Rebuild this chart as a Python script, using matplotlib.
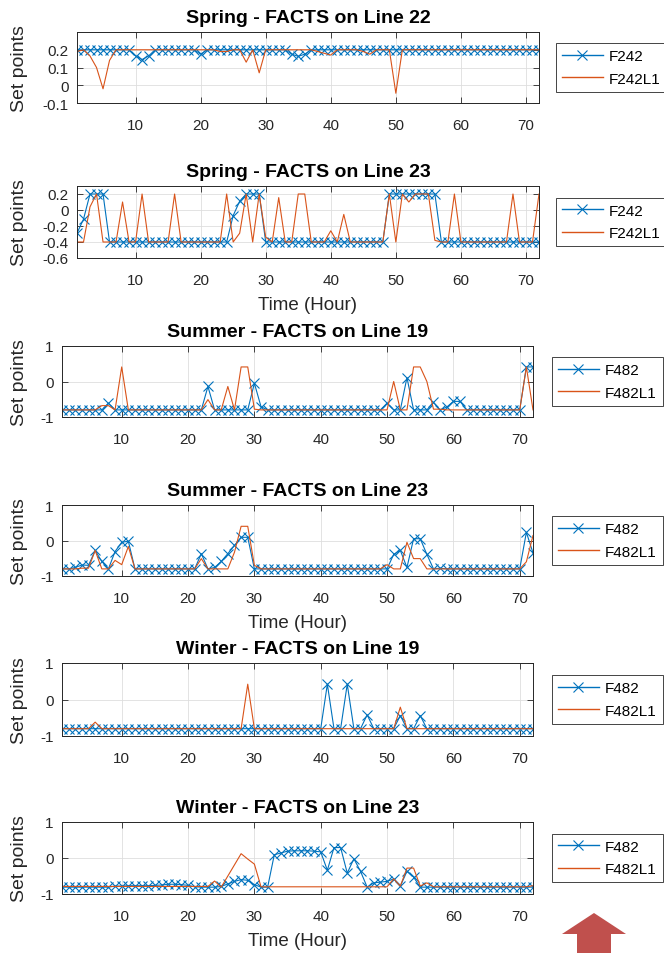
import matplotlib
matplotlib.use('Agg')
import matplotlib.pyplot as plt
from matplotlib.ticker import FixedLocator, FuncFormatter
from matplotlib.patches import Polygon

plt.rcParams['font.family'] = ['Liberation Sans', 'DejaVu Sans']

hours = list(range(1, 73))

# ---------------- data (hours 1..72) ----------------
spring22_F242 = [
    0.2, 0.2, 0.2, 0.2, 0.2, 0.2, 0.2, 0.2, 0.2, 0.165, 0.145, 0.165,
    0.2, 0.2, 0.2, 0.2, 0.2, 0.2, 0.2, 0.175, 0.2, 0.2, 0.2, 0.2,
    0.2, 0.2, 0.2, 0.2, 0.2, 0.2, 0.2, 0.2, 0.2, 0.175, 0.163, 0.175,
    0.2, 0.2, 0.2, 0.2, 0.2, 0.2, 0.2, 0.2, 0.2, 0.2, 0.2, 0.2,
    0.2, 0.2, 0.2, 0.2, 0.2, 0.2, 0.2, 0.2, 0.2, 0.2, 0.2, 0.2,
    0.2, 0.2, 0.2, 0.2, 0.2, 0.2, 0.2, 0.2, 0.2, 0.2, 0.2, 0.2]
spring22_F242L1 = [
    0.19, 0.2, 0.165, 0.1, -0.02, 0.14, 0.2, 0.2, 0.2, 0.2, 0.2, 0.2,
    0.2, 0.2, 0.2, 0.2, 0.2, 0.2, 0.2, 0.2, 0.2, 0.2, 0.19, 0.19,
    0.2, 0.2, 0.13, 0.2, 0.07, 0.2, 0.2, 0.2, 0.2, 0.2, 0.2, 0.2,
    0.2, 0.19, 0.18, 0.17, 0.2, 0.2, 0.2, 0.2, 0.19, 0.175, 0.2, 0.2,
    0.2, -0.045, 0.2, 0.2, 0.2, 0.2, 0.2, 0.2, 0.2, 0.2, 0.2, 0.2,
    0.2, 0.2, 0.2, 0.2, 0.2, 0.2, 0.2, 0.2, 0.2, 0.2, 0.2, 0.2]

spring23_F242 = [
    -0.29, -0.115, 0.2, 0.2, 0.2, -0.4, -0.4, -0.4, -0.4, -0.4, -0.4, -0.4,
    -0.4, -0.4, -0.4, -0.4, -0.4, -0.4, -0.4, -0.4, -0.4, -0.4, -0.4, -0.4,
    -0.07, 0.11, 0.2, 0.2, 0.2, -0.4, -0.4, -0.4, -0.4, -0.4, -0.4, -0.4,
    -0.4, -0.4, -0.4, -0.4, -0.4, -0.4, -0.4, -0.4, -0.4, -0.4, -0.4, -0.4,
    0.2, 0.2, 0.2, 0.2, 0.2, 0.2, 0.2, 0.2, -0.4, -0.4, -0.4, -0.4,
    -0.4, -0.4, -0.4, -0.4, -0.4, -0.4, -0.4, -0.4, -0.4, -0.4, -0.4, -0.4]
spring23_F242L1 = [
    -0.4, -0.4, 0.04, 0.2, -0.4, -0.4, -0.4, 0.1, -0.4, -0.4, 0.2, -0.4,
    -0.4, -0.4, -0.4, 0.2, -0.4, -0.4, -0.4, -0.4, -0.4, -0.4, -0.4, 0.2,
    -0.4, -0.29, 0.2, -0.4, 0.2, -0.34, -0.4, 0.155, -0.4, -0.4, 0.2, 0.2,
    -0.4, -0.4, -0.4, -0.26, -0.4, -0.055, -0.4, -0.4, -0.4, -0.4, -0.4, -0.4,
    0.2, -0.4, 0.2, 0.1, 0.2, 0.2, 0.2, -0.38, -0.4, -0.4, 0.2, -0.4,
    -0.4, -0.4, -0.4, -0.4, -0.4, -0.4, -0.4, 0.2, -0.4, -0.4, -0.4, 0.2]

summer19_F482 = [
    -0.8, -0.8, -0.8, -0.8, -0.8, -0.8, -0.8, -0.61, -0.8, -0.8, -0.8, -0.8,
    -0.8, -0.8, -0.8, -0.8, -0.8, -0.8, -0.8, -0.8, -0.8, -0.8, -0.14, -0.8,
    -0.8, -0.8, -0.8, -0.8, -0.8, -0.05, -0.71, -0.8, -0.8, -0.8, -0.8, -0.8,
    -0.8, -0.8, -0.8, -0.8, -0.8, -0.8, -0.8, -0.8, -0.8, -0.8, -0.8, -0.8,
    -0.8, -0.61, -0.8, -0.8, 0.11, -0.8, -0.8, -0.8, -0.59, -0.8, -0.72, -0.56,
    -0.56, -0.8, -0.8, -0.8, -0.8, -0.8, -0.8, -0.8, -0.8, -0.8, 0.41, 0.41]
summer19_F482L1 = [
    -0.8, -0.8, -0.8, -0.8, -0.8, -0.8, -0.68, -0.68, -0.8, 0.41, -0.8, -0.8,
    -0.8, -0.8, -0.8, -0.8, -0.8, -0.8, -0.8, -0.8, -0.8, -0.8, -0.51, -0.8,
    -0.8, -0.14, -0.8, 0.41, 0.41, -0.78, -0.8, -0.8, -0.8, -0.8, -0.8, -0.8,
    -0.8, -0.8, -0.8, -0.8, -0.8, -0.8, -0.8, -0.8, -0.8, -0.8, -0.8, -0.8,
    -0.8, -0.8, 0.0, -0.8, -0.8, 0.41, 0.41, 0.0, -0.78, -0.78, -0.8, -0.8,
    -0.8, -0.8, -0.8, -0.8, -0.8, -0.8, -0.8, -0.8, -0.8, -0.8, 0.41, -0.8]

summer23_F482 = [
    -0.8, -0.8, -0.76, -0.69, -0.7, -0.28, -0.59, -0.8, -0.31, -0.05, -0.02, -0.8,
    -0.8, -0.8, -0.8, -0.8, -0.8, -0.8, -0.8, -0.8, -0.8, -0.37, -0.8, -0.76,
    -0.59, -0.37, -0.14, 0.09, 0.09, -0.8, -0.8, -0.8, -0.8, -0.8, -0.8, -0.8,
    -0.8, -0.8, -0.8, -0.8, -0.8, -0.8, -0.8, -0.8, -0.8, -0.8, -0.8, -0.8,
    -0.8, -0.8, -0.39, -0.28, -0.76, 0.05, 0.05, -0.39, -0.8, -0.78, -0.8, -0.8,
    -0.8, -0.8, -0.8, -0.8, -0.8, -0.8, -0.8, -0.8, -0.8, -0.8, 0.23, -0.35]
summer23_F482L1 = [
    -0.8, -0.8, -0.8, -0.78, -0.78, -0.28, -0.8, -0.8, -0.56, -0.68, -0.17, -0.8,
    -0.8, -0.8, -0.8, -0.8, -0.8, -0.8, -0.8, -0.8, -0.8, -0.51, -0.8, -0.8,
    -0.8, -0.8, -0.33, 0.4, 0.4, -0.7, -0.8, -0.8, -0.8, -0.8, -0.8, -0.8,
    -0.8, -0.8, -0.8, -0.8, -0.8, -0.8, -0.8, -0.8, -0.8, -0.8, -0.8, -0.8,
    -0.8, -0.68, -0.8, -0.8, -0.05, -0.51, -0.51, -0.8, -0.8, -0.8, -0.8, -0.8,
    -0.8, -0.8, -0.8, -0.8, -0.8, -0.8, -0.8, -0.8, -0.8, -0.8, -0.6, 0.14]

winter19_F482 = [
    -0.8, -0.8, -0.8, -0.8, -0.8, -0.8, -0.8, -0.8, -0.8, -0.8, -0.8, -0.8,
    -0.8, -0.8, -0.8, -0.8, -0.8, -0.8, -0.8, -0.8, -0.8, -0.8, -0.8, -0.8,
    -0.8, -0.8, -0.8, -0.8, -0.8, -0.8, -0.8, -0.8, -0.8, -0.8, -0.8, -0.8,
    -0.8, -0.8, -0.8, -0.8, 0.42, -0.8, -0.8, 0.42, -0.8, -0.8, -0.42, -0.8,
    -0.8, -0.8, -0.8, -0.44, -0.8, -0.8, -0.44, -0.8, -0.8, -0.8, -0.8, -0.8,
    -0.8, -0.8, -0.8, -0.8, -0.8, -0.8, -0.8, -0.8, -0.8, -0.8, -0.8, -0.8]
winter19_F482L1 = [
    -0.8, -0.8, -0.8, -0.8, -0.8, -0.62, -0.8, -0.8, -0.8, -0.8, -0.8, -0.8,
    -0.8, -0.8, -0.8, -0.8, -0.8, -0.8, -0.8, -0.8, -0.8, -0.8, -0.8, -0.8,
    -0.8, -0.8, -0.8, -0.8, 0.42, -0.8, -0.8, -0.8, -0.8, -0.8, -0.8, -0.8,
    -0.8, -0.8, -0.8, -0.8, -0.8, -0.8, -0.8, -0.8, -0.8, -0.8, -0.8, -0.8,
    -0.8, -0.8, -0.8, -0.21, -0.8, -0.8, -0.8, -0.8, -0.8, -0.8, -0.8, -0.8,
    -0.8, -0.8, -0.8, -0.8, -0.8, -0.8, -0.8, -0.8, -0.8, -0.8, -0.8, -0.8]

winter23_F482 = [
    -0.81, -0.81, -0.81, -0.81, -0.81, -0.81, -0.81, -0.81, -0.78, -0.78, -0.77, -0.77,
    -0.77, -0.77, -0.76, -0.75, -0.73, -0.73, -0.74, -0.76, -0.8, -0.81, -0.81, -0.81,
    -0.79, -0.72, -0.65, -0.6, -0.62, -0.74, -0.81, -0.81, 0.09, 0.14, 0.19, 0.2,
    0.2, 0.2, 0.19, 0.17, -0.34, 0.29, 0.29, -0.42, -0.02, -0.37, -0.81, -0.69,
    -0.67, -0.65, -0.58, -0.78, -0.37, -0.53, -0.81, -0.81, -0.81, -0.81, -0.81, -0.81,
    -0.81, -0.81, -0.81, -0.81, -0.81, -0.81, -0.81, -0.81, -0.81, -0.81, -0.81, -0.81]
winter23_F482L1 = [
    -0.79, -0.79, -0.79, -0.79, -0.79, -0.79, -0.79, -0.79, -0.79, -0.79, -0.79, -0.79,
    -0.79, -0.79, -0.79, -0.79, -0.79, -0.79, -0.79, -0.79, -0.79, -0.79, -0.79, -0.64,
    -0.81, -0.5, -0.19, 0.12, -0.03, -0.17, -0.8, -0.8, -0.8, -0.8, -0.8, -0.8,
    -0.8, -0.8, -0.8, -0.8, -0.8, -0.8, -0.8, -0.8, -0.8, -0.8, -0.8, -0.8,
    -0.8, -0.8, -0.58, -0.78, -0.28, -0.28, -0.78, -0.69, -0.8, -0.8, -0.8, -0.8,
    -0.8, -0.8, -0.8, -0.8, -0.8, -0.8, -0.8, -0.8, -0.8, -0.8, -0.8, -0.77]

titles = ["Spring - FACTS on Line 22", "Spring - FACTS on Line 23",
          "Summer - FACTS on Line 19", "Summer - FACTS on Line 23",
          "Winter - FACTS on Line 19", "Winter - FACTS on Line 23"]
series_a = [spring22_F242, spring23_F242, summer19_F482, summer23_F482, winter19_F482, winter23_F482]
series_b = [spring22_F242L1, spring23_F242L1, summer19_F482L1, summer23_F482L1, winter19_F482L1, winter23_F482L1]
names_a = ["F242", "F242", "F482", "F482", "F482", "F482"]
names_b = ["F242L1", "F242L1", "F482L1", "F482L1", "F482L1", "F482L1"]
ylims = [(-0.1, 0.3), (-0.6, 0.3), (-1, 1), (-1, 1), (-1, 1), (-1, 1)]
yticks = [[-0.1, 0, 0.1, 0.2], [-0.6, -0.4, -0.2, 0, 0.2], [-1, 0, 1], [-1, 0, 1], [-1, 0, 1], [-1, 0, 1]]
xticks = [10, 20, 30, 40, 50, 60, 70]
show_xlabel = [False, True, False, True, False, True]

# ---------------- layout (pixels) ----------------
W, H = 664, 954
rects = [(77, 33, 539, 104), (77, 187, 539, 259), (62, 347, 533, 418),
         (62, 506, 533, 577), (62, 664, 533, 737), (62, 823, 533, 895)]
legend_left_px = [556, 556, 552, 552, 552, 552]

BLUE = '#0072BD'
ORANGE = '#D95319'
DARK = '#262626'

fig = plt.figure(figsize=(W / 100, H / 100), dpi=100)

for i in range(6):
    l, t, r, b = rects[i]
    ax = fig.add_axes([l / W, 1 - b / H, (r - l) / W, (b - t) / H])
    ax.plot(hours, series_a[i], color=BLUE, lw=0.8, marker='x', ms=6.5, mew=0.8, label=names_a[i])
    ax.plot(hours, series_b[i], color=ORANGE, lw=0.8, label=names_b[i])
    ax.set_xlim(1, 72)
    ax.set_ylim(*ylims[i])
    ax.xaxis.set_major_locator(FixedLocator(xticks))
    ax.yaxis.set_major_locator(FixedLocator(yticks[i]))
    ax.yaxis.set_major_formatter(FuncFormatter(lambda v, p: '{:g}'.format(round(v, 3))))
    ax.grid(True, color='#dedede', lw=0.6)
    ax.set_axisbelow(True)
    ax.tick_params(axis='both', direction='in', top=True, right=True, length=4,
                   width=0.6, colors=DARK, labelsize=11)
    ax.tick_params(axis='x', pad=11)
    ax.tick_params(axis='y', pad=6)
    for s in ax.spines.values():
        s.set_color(DARK)
        s.set_linewidth(0.7)
    ax.set_title(titles[i], fontsize=14, fontweight='bold', pad=7, color='black')
    w_px = r - l
    h_px = b - t
    ax.set_ylabel('Set points', fontsize=14, color=DARK, va='center')
    ax.yaxis.set_label_coords((20 - l) / w_px, 0.5)
    if show_xlabel[i]:
        ax.set_xlabel('Time (Hour)', fontsize=13.5, color=DARK, va='center')
        ax.xaxis.set_label_coords(0.5, -(47) / h_px)
    leg = ax.legend(loc='center left', bbox_to_anchor=((legend_left_px[i] - l) / w_px, 0.5),
                    fontsize=11, frameon=True, fancybox=False, edgecolor=DARK, framealpha=1,
                    borderpad=0.4, labelspacing=0.55, handlelength=2.65, handletextpad=0.4,
                    borderaxespad=0, numpoints=1)
    leg.get_frame().set_linewidth(0.6)
    for ln in leg.get_lines():
        ln.set_linewidth(1.0)

# decorative arrow at bottom right
arrow_px = [(562, 935), (594, 914), (626, 935), (611, 935), (611, 960), (577, 960), (577, 935)]
fig.add_artist(Polygon([(x / W, 1 - y / H) for x, y in arrow_px], closed=True,
                       transform=fig.transFigure, facecolor='#C0504D', edgecolor='none'))

fig.savefig('out.png', dpi=100)
